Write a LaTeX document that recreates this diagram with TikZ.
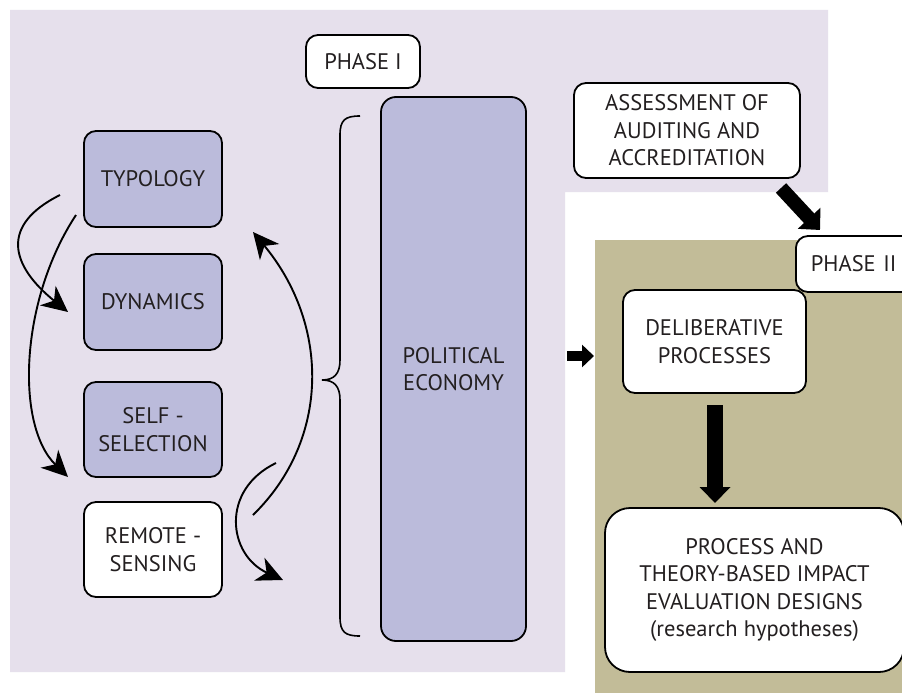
\documentclass[tikz,border=0pt]{standalone}
\usepackage{fontspec}
\setmainfont{PT Sans}
\usetikzlibrary{arrows.meta}
\definecolor{lav}{HTML}{E6E0EC}
\definecolor{boxfill}{HTML}{BBBBDB}
\definecolor{olive}{HTML}{C2BC98}
\definecolor{txt}{HTML}{231F20}
\begin{document}
\begin{tikzpicture}[x=1pt,y=-1pt,
  base/.style={draw=black,line width=1.8pt,rounded corners=12pt,text=txt,align=center,
     font=\fontsize{22.5}{27.5}\selectfont,inner sep=0pt},
  bluebox/.style={base,fill=boxfill},
  whitebox/.style={base,fill=white},
  curvy/.style={line width=1.9pt,-{Stealth[length=26pt 0 0,width=25pt 0 0,inset=8pt 0]}},
]
\useasboundingbox (0,0) rectangle (902,693);
\fill[white] (0,0) rectangle (902,693);
% backgrounds
\fill[lav] (10,10) -- (828,10) -- (828,192) -- (565,192) -- (565,672) -- (10,672) -- cycle;
\fill[olive] (595,240) rectangle (902,693);

% left boxes
\node[bluebox,minimum width=138pt,minimum height=96pt] (typ) at (153,179) {TYPOLOGY};
\node[bluebox,minimum width=138pt,minimum height=96pt] (dyn) at (153,302) {DYNAMICS};
\node[bluebox,minimum width=138pt,minimum height=95pt] (sel) at (153,429.5) {SELF -\\SELECTION};
\node[whitebox,minimum width=138pt,minimum height=95pt] (rem) at (153,549.5) {REMOTE -\\SENSING};

\node[whitebox,minimum width=114pt,minimum height=53pt] (ph1) at (363,61.5) {PHASE I};
\node[bluebox,rounded corners=15pt,minimum width=145pt,minimum height=544pt] (pol) at (453.5,369) {POLITICAL\\ECONOMY};

% brace
\draw[line width=1.6pt] (360,116) .. controls (345,116) and (340,120) .. (340,135) -- (340,360)
  .. controls (340,374) and (334,380) .. (322,380)
  .. controls (334,380) and (340,386) .. (340,400) -- (340,617)
  .. controls (340,632) and (345,636) .. (360,636);

% right side
\node[whitebox,minimum width=226pt,minimum height=95pt] (ass) at (687,130.5) {ASSESSMENT OF\\AUDITING AND\\ACCREDITATION};
\node[whitebox,minimum width=183pt,minimum height=103pt] (del) at (714.5,341.5) {DELIBERATIVE\\PROCESSES};
\node[whitebox,minimum width=120pt,minimum height=56pt,anchor=west,text width=110pt,align=left] (ph2) at (795,264) {\hspace{10pt}PHASE II};
\node[whitebox,rounded corners=25pt,minimum width=299pt,minimum height=164pt] (proc) at (754.5,590) {PROCESS AND\\THEORY-BASED IMPACT\\EVALUATION DESIGNS\\(research hypotheses)};

% curved arrows
\coordinate (a1s) at (60,195);  \coordinate (a1e) at (68,312);
\coordinate (a2s) at (76,215);  \coordinate (a2e) at (68,477);
\coordinate (a3s) at (253,515); \coordinate (a3e) at (253,232);
\coordinate (a4s) at (276,463); \coordinate (a4e) at (283,580);
\draw[curvy] (a1s) .. controls (0,225) and (10,265) .. (a1e);
\draw[curvy] (a2s) .. controls (20,300) and (15,425) .. (a2e);
\draw[curvy] (a3s) .. controls (330,440) and (330,325) .. (a3e);
\draw[curvy] (a4s) .. controls (220,490) and (228,555) .. (a4e);

% fat arrows
\coordinate (r1) at (567,356); \coordinate (r2) at (594,356);
\draw[line width=10pt,-{Triangle[length=12pt,width=22pt]}] (r1) -- (r2);
\coordinate (d1) at (781,188); \coordinate (d2) at (820,230);
\draw[line width=14pt,-{Triangle[length=16pt,width=30pt]}] (d1) -- (d2);
\coordinate (v1) at (715,405); \coordinate (v2) at (715,503);
\draw[line width=16pt,-{Triangle[length=16pt,width=30pt]}] (v1) -- (v2);
\end{tikzpicture}
\end{document}
